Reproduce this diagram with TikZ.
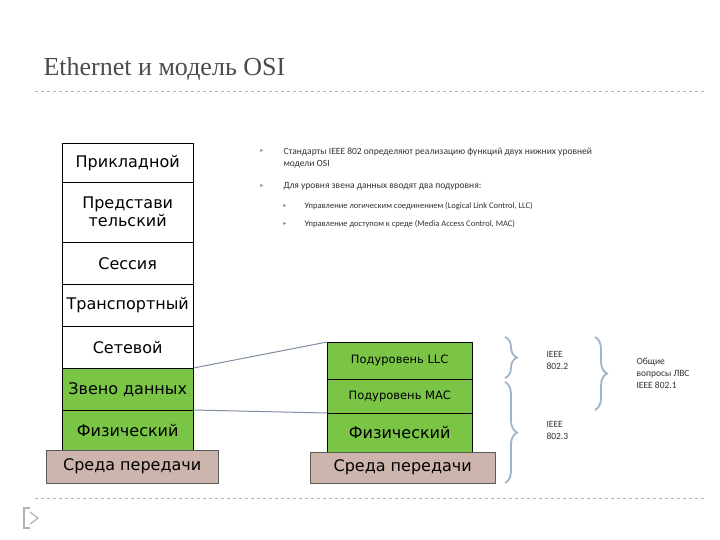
\documentclass[tikz,border=0pt]{standalone}
\usepackage{fontspec}
\setmainfont{DejaVu Sans}
\newfontfamily\titlefont{Liberation Serif}
\newfontfamily\smallfont{Carlito}
\usetikzlibrary{decorations.pathreplacing}
\definecolor{lgreen}{RGB}{122,196,70}
\definecolor{mauve}{RGB}{205,180,172}
\definecolor{bcol}{RGB}{160,180,200}
\tikzset{
 layer/.style={draw=black,minimum width=131pt,inner sep=0pt,font=\fontsize{16}{18}\selectfont,align=center,anchor=north west},
 rlayer/.style={draw=black,minimum width=145pt,inner sep=0pt,anchor=north west},
 medium/.style={draw=gray!70!black,fill=mauve,inner sep=0pt,anchor=north west,font=\fontsize{16}{18}\selectfont},
 small/.style={font=\smallfont\fontsize{9.5}{12}\selectfont,text=black!80,anchor=west,align=left},
 brace/.style={draw=bcol,line width=1.8pt,decorate,decoration={brace,amplitude=12pt}},
 link/.style={draw=bcol!80!black,line width=1pt},
 bul/.style={font=\fontsize{6}{6}\selectfont,text=gray}
}
\begin{document}
\begin{tikzpicture}[x=1pt,y=-1pt]
\useasboundingbox[fill=white] (0,0) rectangle (720,540);
\node[anchor=west,font=\titlefont\fontsize{26}{28}\selectfont,text=black!70] (title) at (40,69) {Ethernet и модель OSI};
\draw[gray!60,dashed] (35,91) -- (705,91);
\draw[gray!60,dashed] (35,498) -- (705,498);
\draw[gray!60,line width=1.5pt] (30,508) -- (24,508) -- (24,528) -- (30,528);
\draw[gray!60,line width=1.2pt] (30,512) -- (38,518) -- (30,524);
% left stack
\node[layer,minimum height=39pt] (l1) at (62,143) {Прикладной};
\node[layer,minimum height=60pt] (l2) at (62,182) {Представи\\тельский};
\node[layer,minimum height=42pt] (l3) at (62,242) {Сессия};
\node[layer,minimum height=42pt] (l4) at (62,284) {Транспортный};
\node[layer,minimum height=42pt] (l5) at (62,326) {Сетевой};
\node[layer,fill=lgreen,minimum height=42pt] (l6) at (62,368) {Звено данных};
\node[layer,fill=lgreen,minimum height=40pt] (l7) at (62,410) {Физический};
\node[medium,minimum width=172pt,minimum height=33pt] (l8) at (46,450) {Среда передачи};
% right stack
\node[rlayer,fill=lgreen,minimum height=37pt,font=\fontsize{11.5}{12}\selectfont] (r1) at (327,342) {Подуровень LLC};
\node[rlayer,fill=lgreen,minimum height=34pt,font=\fontsize{11.5}{12}\selectfont] (r2) at (327,379) {Подуровень MAC};
\node[rlayer,fill=lgreen,minimum height=39pt,font=\fontsize{16}{18}\selectfont] (r3) at (327,413) {Физический};
\node[medium,minimum width=185pt,minimum height=31pt] (r4) at (310,452) {Среда передачи};
\draw[link] (l6.north east) -- (r1.north west);
\draw[link] (l7.north east) -- (r3.north west);
% braces
\draw[brace] (505,337) -- (505,378);
\draw[brace] (505,382) -- (505,483);
\draw[brace] (595,337) -- (595,410);
\node[small] (i1) at (543,360) {IEEE\\802.2};
\node[small] (i2) at (543,430) {IEEE\\802.3};
\node[small] (i3) at (633,373) {Общие\\вопросы ЛВС\\IEEE 802.1};
% bullets
\node[bul] (d1) at (262,151) {▸};
\node[small] (t1) at (280,158) {Стандарты IEEE 802 определяют реализацию функций двух нижних уровней\\модели OSI};
\node[bul] (d2) at (262,186) {▸};
\node[small] (t2) at (280,186) {Для уровня звена данных вводят два подуровня:};
\node[bul] (d3) at (285,206) {▸};
\node[small,font=\smallfont\fontsize{8.5}{10}\selectfont] (t3) at (301,206) {Управление логическим соединением (Logical Link Control, LLC)};
\node[bul] (d4) at (285,224) {▸};
\node[small,font=\smallfont\fontsize{8.5}{10}\selectfont] (t4) at (301,224) {Управление доступом к среде (Media Access Control, MAC)};
\end{tikzpicture}
\end{document}
